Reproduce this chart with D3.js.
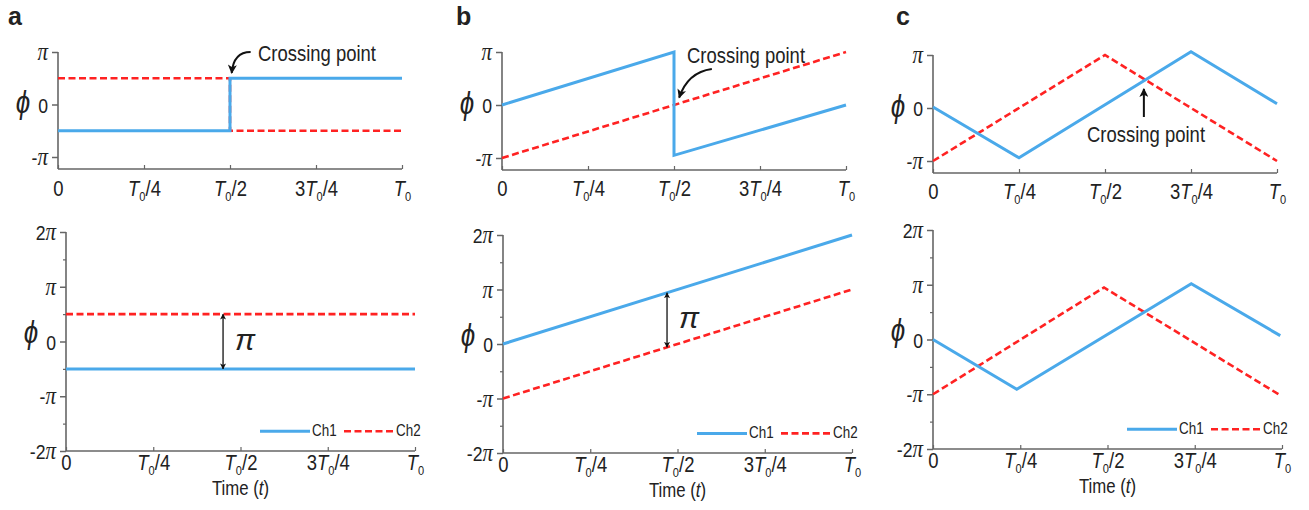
<!DOCTYPE html>
<html>
<head>
<meta charset="utf-8">
<script src="https://cdn.jsdelivr.net/npm/d3@7"></script>
<style>
    body { margin: 0; background: #fff; }
    text { font-family: "Liberation Sans", Arial, sans-serif; fill: #222; }
</style>
</head>
<body>
<svg id="chart" width="1309" height="510"></svg>
<script>
'use strict';

// time in units of T0, phase in units of pi
const timeTicks = [0, 0.25, 0.5, 0.75, 1];
const timeLabels = ['0', 'T0/4', 'T0/2', '3T0/4', 'T0'];
const phaseTicksTop = [1, 0, -1];
const phaseLabelsTop = ['π', '0', '-π'];
const phaseTicksBottom = [2, 1, 0, -1, -2];
const phaseLabelsBottom = ['2π', 'π', '0', '-π', '-2π'];
const phaseMinorBottom = [1.5, 0.5, -0.5, -1.5];
const seriesNames = ['Ch1', 'Ch2'];

// panel a
const aTopCh1 = [[0, -0.5], [0.5, -0.5], [0.5, 0.5], [1, 0.5]];
const aTopCh2 = [[0, 0.5], [0.5, 0.5], [0.5, -0.5], [1, -0.5]];
const aBotCh1 = [[0, -0.5], [1, -0.5]];
const aBotCh2 = [[0, 0.5], [1, 0.5]];
// panel b
const bTopCh1 = [[0, 0], [0.5, 1], [0.5, -0.95], [1, 0]];
const bTopCh2 = [[0, -1], [1, 1]];
const bBotCh1 = [[0, 0], [1, 2]];
const bBotCh2 = [[0, -1], [1, 1]];
// panel c
const cTopCh1 = [[0, 0.02], [0.25, -0.94], [0.75, 1.06], [1, 0.08]];
const cTopCh2 = [[0, -1], [0.5, 1], [1, -1]];
const cBotCh1 = [[0, 0], [0.24, -0.91], [0.74, 1.02], [0.995, 0.07]];
const cBotCh2 = [[0, -1], [0.49, 0.95], [0.99, -1]];

const blue = '#4aa9ea',
    red = '#ff2222',
    axisColor = '#666',
    squeeze = 0.84,
    serif = '"Liberation Serif", "DejaVu Serif", serif',
    svg = d3.select('#chart');

// condensed look: scale glyphs horizontally, keep the anchor where it was
function narrow(sel) {
    sel.each(function() {
        let t = d3.select(this),
            x = +t.attr('x') || 0;
        t.attr('x', x / squeeze).attr('transform', `scale(${squeeze},1)`);
    });
    return sel;
}

const defs = svg.append('defs');
[['head', 10, 9], ['small', 6, 6]].forEach(([id, w, h]) => {
    defs.append('marker')
        .attr('id', id)
        .attr('viewBox', '0 0 10 10')
        .attr('refX', 9).attr('refY', 5)
        .attr('markerUnits', 'userSpaceOnUse')
        .attr('markerWidth', w).attr('markerHeight', h)
        .attr('orient', 'auto-start-reverse')
        .append('path')
        .attr('d', 'M0,0 L10,5 L0,10 L2.5,5 z')
        .attr('fill', '#111');
});

const panels = [
    {
        letter: 'a', lx: 8,
        top: { x: [58, 402], y: [157, 52], axisY: 169, data: [aTopCh1, aTopCh2], labelY: 196 },
        bot: { x: [66, 415], y: [451, 232], data: [aBotCh1, aBotCh2], gapAt: 0.45 },
        note: { text: [258, 61], from: [0.56, 1.0], to: [0.505, 0.6], curve: [0.51, 1.0] }
    },
    {
        letter: 'b', lx: 456,
        top: { x: [502, 846], y: [158, 52], axisY: 170, data: [bTopCh1, bTopCh2], labelY: 196 },
        bot: { x: [503, 852], y: [453, 235], data: [bBotCh1, bBotCh2], gapAt: 0.47 },
        note: { text: [687, 63], from: [0.61, 0.68], to: [0.515, 0.14], curve: [0.54, 0.62] }
    },
    {
        letter: 'c', lx: 896,
        top: { x: [933, 1277], y: [161, 55], axisY: 173, data: [cTopCh1, cTopCh2], labelY: 199 },
        bot: { x: [933, 1282], y: [449, 230], data: [cBotCh1, cBotCh2] },
        note: { text: [1087, 142], from: [0.613, -0.17], to: [0.613, 0.36] }
    }
];

function tickText(sel, label, size) {
    sel.text(null);
    let i = label.indexOf('T0');
    if (i < 0) {
        sel.append('tspan').text(label);
        return;
    }
    if (i > 0) sel.append('tspan').text(label.slice(0, i));
    sel.append('tspan').attr('font-style', 'italic').text('T');
    sel.append('tspan').attr('font-size', size * 0.6).attr('dy', 5).text('0');
    let rest = label.slice(i + 2);
    if (rest) sel.append('tspan').attr('dy', -5).text(rest);
}

function piText(sel, label) {
    sel.text(null);
    label.split('').forEach(ch => {
        if (ch === 'π') {
            sel.append('tspan')
                .attr('font-family', serif)
                .attr('font-style', 'italic')
                .attr('font-size', 25)
                .text('π');
        } else {
            sel.append('tspan').text(ch);
        }
    });
}

function drawPlot(cfg, isTop) {
    let x = d3.scaleLinear().domain([0, 1]).range(cfg.x),
        y = d3.scaleLinear().domain(isTop ? [-1, 1] : [-2, 2]).range(cfg.y),
        baseY = isTop ? cfg.axisY : cfg.y[0],
        g = svg.append('g');

    // y axis
    let yAxis = d3.axisLeft(y)
        .tickValues(isTop ? phaseTicksTop : phaseTicksBottom)
        .tickSize(6).tickSizeOuter(0).tickPadding(4);
    let yG = g.append('g')
        .attr('transform', `translate(${cfg.x[0]},0)`)
        .call(yAxis);
    yG.select('.domain').remove();
    yG.selectAll('.tick line').attr('stroke', axisColor).attr('stroke-width', 1.5);
    let yLabels = isTop ? phaseLabelsTop : phaseLabelsBottom;
    yG.selectAll('.tick text')
        .attr('font-size', 21).attr('fill', '#444')
        .attr('font-family', null)
        .attr('dy', '0.36em')
        .each(function(d, i) { piText(d3.select(this), yLabels[i]); })
        .call(narrow);

    if (!isTop) {
        g.append('g')
            .attr('transform', `translate(${cfg.x[0]},0)`)
            .call(d3.axisLeft(y).tickValues(phaseMinorBottom).tickSize(3).tickFormat(''))
            .call(s => s.select('.domain').remove())
            .selectAll('line').attr('stroke', axisColor).attr('stroke-width', 1.2);
    }

    // x axis
    let xG = g.append('g')
        .attr('transform', `translate(0,${baseY})`)
        .call(d3.axisBottom(x).tickValues(timeTicks).tickSize(-4).tickSizeOuter(0));
    xG.select('.domain').remove();
    xG.selectAll('.tick line').attr('stroke', axisColor).attr('stroke-width', 1.2);
    xG.selectAll('.tick text')
        .attr('font-size', 22).attr('fill', '#333')
        .attr('font-family', null)
        .attr('dy', null)
        .attr('y', (isTop ? cfg.labelY : baseY + 19) - baseY)
        .each(function(d, i) { tickText(d3.select(this), timeLabels[i], 22); })
        .call(narrow);

    // axis lines
    g.append('line')
        .attr('x1', cfg.x[0]).attr('x2', cfg.x[0])
        .attr('y1', y(isTop ? 1 : 2)).attr('y2', baseY)
        .attr('stroke', axisColor).attr('stroke-width', 1.6);
    g.append('line')
        .attr('x1', cfg.x[0]).attr('x2', cfg.x[1])
        .attr('y1', baseY).attr('y2', baseY)
        .attr('stroke', axisColor).attr('stroke-width', 1.6);

    // phi label
    g.append('text')
        .attr('x', cfg.x[0] - 35)
        .attr('y', isTop ? y(0) + 9 : y(0) + 2)
        .attr('text-anchor', 'middle')
        .attr('font-style', 'italic')
        .attr('font-size', 31)
        .attr('fill', '#333')
        .text('\u03D5')
        .call(narrow);

    let line = d3.line().x(d => x(d[0])).y(d => y(d[1]));
    g.append('path')
        .datum(cfg.data[1])
        .attr('d', line)
        .attr('fill', 'none')
        .attr('stroke', red)
        .attr('stroke-width', 2.6)
        .attr('stroke-dasharray', '7,3.5');
    g.append('path')
        .datum(cfg.data[0])
        .attr('d', line)
        .attr('fill', 'none')
        .attr('stroke', blue)
        .attr('stroke-width', 3);

    return { x, y, g };
}

function valueAt(data, t) {
    for (let i = 1; i < data.length; i++) {
        let [t0, v0] = data[i - 1], [t1, v1] = data[i];
        if (t >= t0 && t <= t1 && t1 > t0) return v0 + (v1 - v0) * (t - t0) / (t1 - t0);
    }
    return data[data.length - 1][1];
}

panels.forEach(p => {
    svg.append('text')
        .attr('x', p.lx).attr('y', 25)
        .attr('font-weight', 'bold')
        .attr('font-size', 25)
        .attr('fill', '#000')
        .text(p.letter);

    let top = drawPlot(p.top, true);
    let bot = drawPlot(p.bot, false);

    // crossing point annotation
    top.g.append('text')
        .attr('x', p.note.text[0]).attr('y', p.note.text[1])
        .attr('font-size', 22).attr('fill', '#111')
        .text('Crossing point')
        .call(narrow);
    let from = [top.x(p.note.from[0]), top.y(p.note.from[1])],
        to = [top.x(p.note.to[0]), top.y(p.note.to[1])],
        d = p.note.curve
            ? `M${from}Q${top.x(p.note.curve[0])},${top.y(p.note.curve[1])} ${to}`
            : `M${from}L${to}`;
    top.g.append('path')
        .attr('d', d)
        .attr('fill', 'none')
        .attr('stroke', '#111')
        .attr('stroke-width', 2)
        .attr('marker-end', 'url(#head)');

    // pi gap arrow
    if (p.bot.gapAt !== undefined) {
        let t = p.bot.gapAt,
            v1 = valueAt(p.bot.data[0], t),
            v2 = valueAt(p.bot.data[1], t);
        bot.g.append('line')
            .attr('x1', bot.x(t)).attr('x2', bot.x(t))
            .attr('y1', bot.y(v2)).attr('y2', bot.y(v1))
            .attr('stroke', '#111')
            .attr('stroke-width', 1.3)
            .attr('marker-start', 'url(#small)')
            .attr('marker-end', 'url(#small)');
        bot.g.append('text')
            .attr('x', bot.x(t) + 12)
            .attr('y', bot.y((v1 + v2) / 2) + 8)
            .attr('font-family', serif)
            .attr('font-style', 'italic')
            .attr('font-size', 30)
            .attr('fill', '#333')
            .text('π');
    }

    // legend
    let ly = bot.y(-1.64),
        lx = p.bot.x[1] - 155;
    seriesNames.forEach((name, i) => {
        let ox = lx + i * 84;
        bot.g.append('line')
            .attr('x1', ox).attr('x2', ox + 50)
            .attr('y1', ly).attr('y2', ly)
            .attr('stroke', i ? red : blue)
            .attr('stroke-width', i ? 2.6 : 3)
            .attr('stroke-dasharray', i ? '7,3.5' : null);
        bot.g.append('text')
            .attr('x', ox + 52).attr('y', ly + 5)
            .attr('font-size', 16)
            .text(name)
            .call(narrow);
    });

    // x axis title
    bot.g.append('text')
        .attr('x', bot.x(0.5)).attr('y', p.bot.y[0] + 44)
        .attr('text-anchor', 'middle')
        .attr('font-size', 20)
        .call(s => {
            s.append('tspan').text('Time (');
            s.append('tspan').attr('font-style', 'italic').text('t');
            s.append('tspan').text(')');
        })
        .call(narrow);
});
</script>
</body>
</html>
